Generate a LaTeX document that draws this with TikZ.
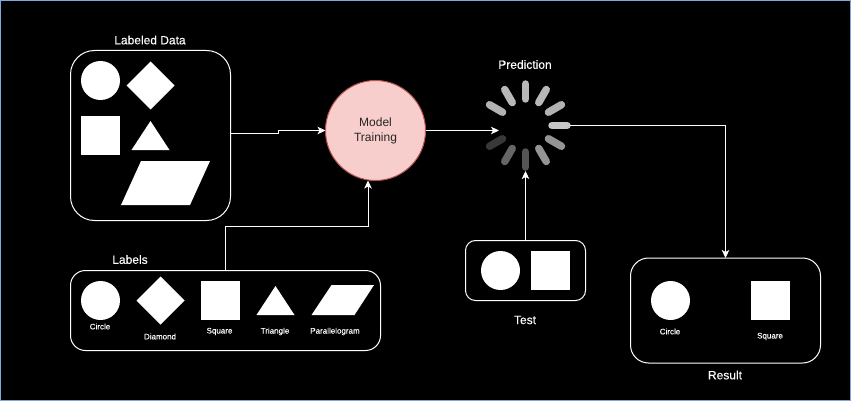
\documentclass[tikz,border=0pt]{standalone}
\usepackage{fontspec}
\setmainfont{Liberation Sans}
\newfontfamily\heavyfont[FakeBold=0.25]{Liberation Sans}
\usepackage{tikz}
\usetikzlibrary{calc, arrows.meta, shapes.geometric}

\tikzset{
    shapefill/.style={fill=white, draw=none, inner sep=0pt, outer sep=0pt},
    roundround/.style={shape=circle, shapefill, minimum size=39pt},
    squarebox/.style={shape=rectangle, shapefill, minimum size=39pt},
    kitebox/.style={shape=diamond, shapefill, minimum size=48pt},
    groupbox/.style={shape=rectangle, draw=white, line width=1pt, inner sep=0pt, outer sep=0pt},
    flow/.style={draw=white, line width=1pt, -{Stealth[length=8pt, width=7.5pt, inset=2pt]}},
    title/.style={text=white, font=\heavyfont\fontsize{12}{14}\selectfont, inner sep=0pt},
    tag/.style={text=white, font=\heavyfont\fontsize{8}{10}\selectfont, inner sep=0pt},
}

\begin{document}
\begin{tikzpicture}[x=1pt, y=-1pt]
    \definecolor{modelfill}{HTML}{F8CECC}
    \definecolor{modeledge}{HTML}{B85450}
    \definecolor{frameblue}{HTML}{7EA6E0}

    \useasboundingbox (0, 0) rectangle (851, 401);
    \fill[black] (0, 0) rectangle (851, 401);
    \draw[frameblue, line width=1pt] (0.5, 0.5) rectangle (850.5, 400.5);

    \node[groupbox, rounded corners=24pt, minimum width=160pt, minimum height=170pt] (data) at (150.5, 135.5) {};
    \node[groupbox, rounded corners=15pt, minimum width=310pt, minimum height=80pt] (labels) at (225.5, 310.5) {};
    \node[groupbox, rounded corners=10pt, minimum width=120pt, minimum height=60pt] (test) at (525.5, 270.5) {};
    \node[groupbox, rounded corners=18pt, minimum width=190pt, minimum height=105pt] (result) at (725.5, 310.5) {};
    \node[shape=circle, fill=modelfill, draw=modeledge, line width=1pt, minimum size=100pt, inner sep=0pt, outer sep=0pt,
        align=center, text=black!85, font=\fontsize{12}{15}\selectfont] (model) at (375.5, 130.5) {Model\\Training};

    \node[roundround] (dataCircle) at (100.5, 80.5) {};
    \node[kitebox] (dataDiamond) at (150.5, 85.5) {};
    \node[squarebox] (dataSquare) at (100.5, 135.5) {};
    \fill[white] (131.5, 150) -- (150.5, 121) -- (169.5, 150) -- cycle;
    \fill[white] (121, 205) -- (141, 161) -- (210, 161) -- (190, 205) -- cycle;

    \node[roundround] (labelCircle) at (100.5, 300.5) {};
    \node[kitebox] (labelDiamond) at (160.5, 300.5) {};
    \node[squarebox] (labelSquare) at (220.5, 300.5) {};
    \fill[white] (256.5, 315) -- (275.5, 286) -- (294.5, 315) -- cycle;
    \fill[white] (311.5, 315) -- (331.5, 285) -- (374, 285) -- (354.5, 315) -- cycle;

    \node[roundround] (testCircle) at (500.5, 270.5) {};
    \node[squarebox] (testSquare) at (550.5, 270.5) {};
    \node[roundround] (resultCircle) at (670.5, 300.5) {};
    \node[squarebox] (resultSquare) at (770.5, 300.5) {};

    \coordinate (spinner) at (525.5, 125.5);
    \foreach \ang/\shade in {0/72, 30/72, 60/70, 90/78, 120/58, 150/58, 180/33, 210/40, 240/22, 300/70, 330/72} {
        \draw[white!\shade!black, line width=7.5pt, line cap=round]
            ($(spinner)+({sin(\ang)*26.5}, {-cos(\ang)*26.5})$) -- ($(spinner)+({sin(\ang)*41.5}, {-cos(\ang)*41.5})$);
    }
    \coordinate (predIn) at (499, 130.5);
    \coordinate (predOut) at (570, 125.5);
    \coordinate (predDown) at (525.5, 171);
    \coordinate (dataStep) at (278, 130.5);
    \coordinate (labelsBend) at (225.5, 226);
    \coordinate (modelIn) at (368, 180.5);

    \draw[flow] ($(data.east)+(0, -1.5)$) -- ($(dataStep)+(0, 3.5)$) -- (dataStep) -- (model.west);
    \draw[flow] (model.east) -- (predIn);
    \draw[flow] (labels.north) -- (labelsBend) -| (modelIn);
    \draw[flow] (test.north) -- (predDown);
    \draw[flow] (predOut) -| (result.north);

    \node[title] (dataTitle) at (150, 40) {Labeled Data};
    \node[title] (labelsTitle) at (130, 259.5) {Labels};
    \node[title] (predTitle) at (525, 64.5) {Prediction};
    \node[title] (testTitle) at (525, 320) {Test};
    \node[title] (resultTitle) at (725, 375) {Result};

    \node[tag] (tagCircle) at (100, 326.5) {Circle};
    \node[tag] (tagDiamond) at (160, 336.5) {Diamond};
    \node[tag] (tagSquare) at (219.5, 331.5) {Square};
    \node[tag] (tagTriangle) at (275, 331.5) {Triangle};
    \node[tag] (tagPara) at (335, 331.5) {Parallelogram};
    \node[tag] (tagResCircle) at (670, 331.5) {Circle};
    \node[tag] (tagResSquare) at (770, 336.5) {Square};
\end{tikzpicture}
\end{document}
